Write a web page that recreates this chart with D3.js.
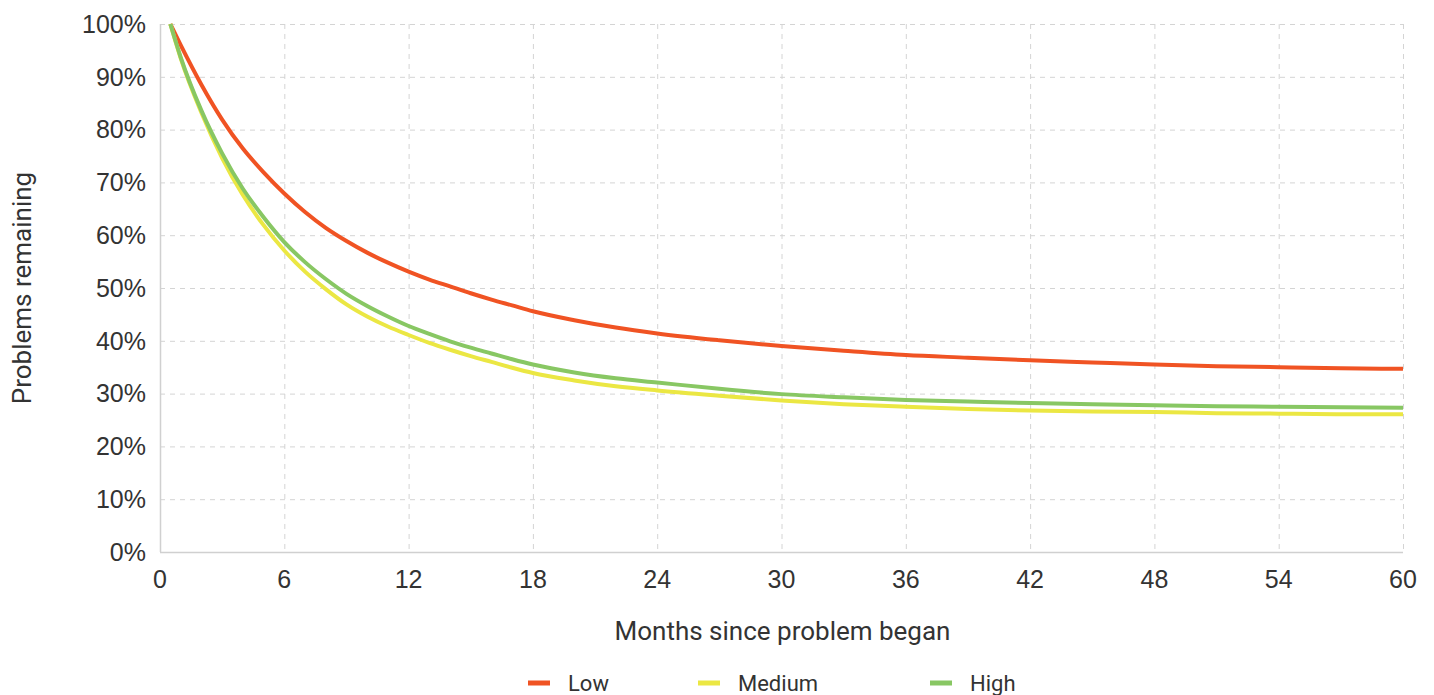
<!DOCTYPE html>
<html>
<head>
<meta charset="utf-8">
<script src="https://cdn.jsdelivr.net/npm/d3@7"></script>
<style>
  html, body { margin: 0; padding: 0; background: #fff; }
  .grid line { stroke: #d4d4d4; stroke-dasharray: 5,5; stroke-width: 1; }
  .tick-label { font-family: "Liberation Sans", Arial, sans-serif; font-size: 25px; fill: #333; }
  .title { font-family: Roboto, "Noto Sans", sans-serif; font-size: 26px; fill: #333; }
  .legend-label { font-family: Roboto, "Noto Sans", sans-serif; font-size: 22px; fill: #333; }
</style>
</head>
<body>
<div id="chart"></div>
<script>
// --- données ---
const months = [0.5, 1, 2, 3, 4, 5, 6, 7, 8, 9, 10, 11, 12, 13, 14, 15, 16, 17, 18, 20, 22, 24, 27, 30, 33, 36, 39, 42, 45, 48, 51, 54, 57, 60];
const lowValues = [100, 96.0, 88.5, 81.9, 76.4, 71.9, 67.9, 64.4, 61.4, 58.9, 56.7, 54.8, 53.1, 51.6, 50.3, 49.0, 47.8, 46.7, 45.6, 43.9, 42.5, 41.4, 40.1, 39.0, 38.1, 37.3, 36.8, 36.3, 35.9, 35.5, 35.2, 35.0, 34.8, 34.7];
const mediumValues = [100, 93.5, 83.2, 74.6, 67.6, 61.9, 57.1, 53.1, 49.8, 46.9, 44.6, 42.7, 41.1, 39.6, 38.3, 37.1, 36.0, 34.9, 33.9, 32.5, 31.4, 30.6, 29.6, 28.7, 28.0, 27.5, 27.1, 26.8, 26.6, 26.5, 26.3, 26.2, 26.1, 26.1];
const highValues = [100, 93.7, 83.6, 75.5, 68.8, 63.4, 58.7, 54.9, 51.7, 48.9, 46.6, 44.6, 42.8, 41.3, 39.9, 38.7, 37.6, 36.5, 35.5, 34.0, 32.9, 32.1, 30.9, 29.9, 29.3, 28.8, 28.5, 28.2, 28.0, 27.8, 27.6, 27.5, 27.4, 27.3];
const seriesNames = ["Low", "Medium", "High"];
const seriesColors = ["#f05323", "#ebe743", "#88c763"];
const xTicks = [0, 6, 12, 18, 24, 30, 36, 42, 48, 54, 60];
const yTicks = [0, 10, 20, 30, 40, 50, 60, 70, 80, 90, 100];

const W = 1434, H = 695;
const margin = {top: 24, right: 31, bottom: 143, left: 160};
const width = W - margin.left - margin.right;
const height = H - margin.top - margin.bottom;

const svg = d3.select("#chart").append("svg")
    .attr("width", W).attr("height", H);
const g = svg.append("g").attr("transform", `translate(${margin.left},${margin.top})`);

const x = d3.scaleLinear().domain([0, 60]).range([0, width]);
const y = d3.scaleLinear().domain([0, 100]).range([height, 0]);

// grille en pointillés
const grid = g.append("g").attr("class", "grid");
grid.selectAll(".gx").data(xTicks.filter(d => d > 0)).join("line")
    .attr("x1", d => x(d) + 0.5).attr("x2", d => x(d) + 0.5)
    .attr("y1", 0).attr("y2", height);
grid.selectAll(".gy").data(yTicks.filter(d => d > 0)).join("line")
    .attr("x1", 0).attr("x2", width)
    .attr("y1", d => y(d) + 0.5).attr("y2", d => y(d) + 0.5);

// axes
g.append("line").attr("x1", 0.5).attr("x2", 0.5).attr("y1", 0).attr("y2", height)
    .attr("stroke", "#d0d0d0").attr("stroke-width", 1.5);
g.append("line").attr("x1", 0).attr("x2", width).attr("y1", height + 0.5).attr("y2", height + 0.5)
    .attr("stroke", "#d0d0d0").attr("stroke-width", 1.5);

g.selectAll(".ylab").data(yTicks).join("text")
    .attr("class", "tick-label")
    .attr("x", -14).attr("y", d => y(d)).attr("dy", "0.35em")
    .attr("text-anchor", "end")
    .text(d => d + "%");

g.selectAll(".xlab").data(xTicks).join("text")
    .attr("class", "tick-label")
    .attr("x", d => x(d)).attr("y", height + 36)
    .attr("text-anchor", "middle")
    .text(d => d);

svg.append("text").attr("class", "title")
    .attr("x", margin.left + width / 2 + 1).attr("y", 640)
    .attr("text-anchor", "middle")
    .text("Months since problem began");

svg.append("text").attr("class", "title")
    .attr("transform", `translate(31, ${margin.top + height / 2}) rotate(-90)`)
    .attr("text-anchor", "middle")
    .text("Problems remaining");

// courbes
const series = [lowValues, mediumValues, highValues];
const line = d3.line().x((d, i) => x(months[i])).y(d => y(d)).curve(d3.curveMonotoneX);
g.selectAll(".series").data([0, 1, 2]).join("path")
    .attr("fill", "none")
    .attr("stroke", i => seriesColors[i])
    .attr("stroke-width", 4)
    .attr("stroke-linejoin", "round")
    .attr("d", i => line(series[i]));

// légende
const legendX = [528, 698, 930];
const legend = svg.selectAll(".legend").data(seriesNames).join("g")
    .attr("transform", (d, i) => `translate(${legendX[i]}, 683)`);
legend.append("rect").attr("x", 0).attr("y", -2.5).attr("width", 22).attr("height", 5)
    .attr("fill", (d, i) => seriesColors[i]);
legend.append("text").attr("class", "legend-label")
    .attr("x", 40).attr("y", 0).attr("dy", "0.35em")
    .text(d => d);
</script>
</body>
</html>
